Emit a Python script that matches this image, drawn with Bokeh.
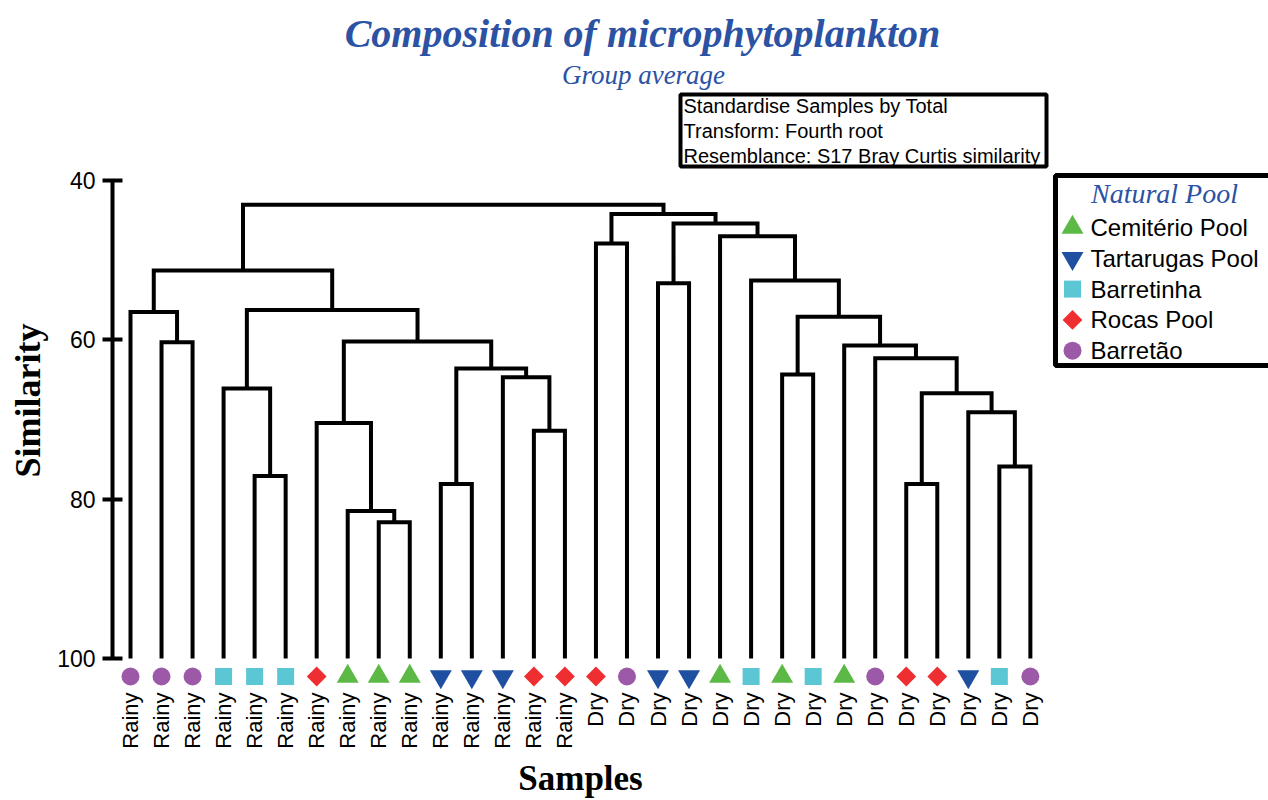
import math
from bokeh.plotting import figure
from bokeh.models import Range1d, FixedTicker, ColumnDataSource
from bokeh.core.properties import value
from bokeh.embed import file_html
from bokeh.resources import INLINE

# ---------------- data ----------------
seasons = ["Rainy", "Rainy", "Rainy", "Rainy", "Rainy", "Rainy", "Rainy", "Rainy",
           "Rainy", "Rainy", "Rainy", "Rainy", "Rainy", "Rainy", "Rainy",
           "Dry", "Dry", "Dry", "Dry", "Dry", "Dry", "Dry", "Dry",
           "Dry", "Dry", "Dry", "Dry", "Dry", "Dry", "Dry"]
pools = ["Barretão", "Barretão", "Barretão", "Barretinha", "Barretinha", "Barretinha",
         "Rocas Pool", "Cemitério Pool", "Cemitério Pool", "Cemitério Pool",
         "Tartarugas Pool", "Tartarugas Pool", "Tartarugas Pool", "Rocas Pool", "Rocas Pool",
         "Rocas Pool", "Barretão", "Tartarugas Pool", "Tartarugas Pool", "Cemitério Pool",
         "Barretinha", "Cemitério Pool", "Barretinha", "Cemitério Pool", "Barretão",
         "Rocas Pool", "Rocas Pool", "Tartarugas Pool", "Barretinha", "Barretão"]

# linkage (scipy style: new node ids start at 30)
merge_a = [1, 0, 4, 3, 8, 7, 6, 10, 13, 12, 37, 36, 33, 31,
           15, 17, 21, 25, 28, 27, 47, 24, 23, 46, 20, 19, 45, 44, 43]
merge_b = [2, 30, 5, 32, 9, 34, 35, 11, 14, 38, 39, 40, 41, 42,
           16, 18, 22, 26, 29, 48, 49, 50, 51, 52, 53, 54, 55, 56, 57]
similarity = [60.3, 56.5, 77.1, 66.1, 82.9, 81.5, 70.45, 78.1, 71.4, 64.7, 63.6, 60.2, 56.25, 51.3,
              47.9, 52.9, 64.35, 78.1, 75.9, 69.1, 66.7, 62.3, 60.7, 57.1, 52.55, 47.0, 45.4, 44.2,
              43.05]

legend_pools = ["Cemitério Pool", "Tartarugas Pool", "Barretinha", "Rocas Pool", "Barretão"]
legend_markers = ["triangle", "inverted_triangle", "square", "square", "circle"]
legend_angles = [0.0, 0.0, 0.0, math.pi / 4, 0.0]
legend_colors = ["#5cb946", "#1f4fa0", "#5bc6d4", "#ee2e31", "#9b59a7"]
legend_sizes = [22, 22, 17, 14, 18]

y_ticks = [40, 60, 80, 100]
notes = ["Standardise Samples by Total", "Transform: Fourth root",
         "Resemblance: S17 Bray Curtis similarity"]

# ---------------- geometry helpers (annotation placement) ----------------
PXU = 31.03          # px per leaf
PYU = 478.0 / 60.0   # px per similarity unit
def dx(px):
    return (px - 130.0) / PXU
def dy(py):
    return 40.0 + (py - 180.0) / PYU

p = figure(width=1268, height=800, output_backend="svg", toolbar_location=None,
           x_range=Range1d(dx(112), dx(1268)), y_range=Range1d(dy(800), dy(0)),
           x_axis_location=None, y_axis_location="left",
           min_border_left=112, min_border_right=0, min_border_top=0, min_border_bottom=0)
p.outline_line_color = None
p.xgrid.grid_line_color = None
p.ygrid.grid_line_color = None
p.background_fill_color = "white"

ax = p.yaxis[0]
ax.ticker = FixedTicker(ticks=y_ticks)
ax.bounds = (40, 100)
ax.axis_line_width = 4
ax.axis_line_color = "black"
ax.major_tick_line_width = 4
ax.major_tick_in = 10
ax.major_tick_out = 10
ax.minor_tick_line_color = None
ax.major_label_text_font = "Liberation Sans"
ax.major_label_text_font_size = "23px"
ax.major_label_text_color = "black"
ax.major_label_standoff = 7
ax.axis_label = "Similarity"
ax.axis_label_text_font = "Liberation Serif"
ax.axis_label_text_font_style = "bold"
ax.axis_label_text_font_size = "36px"
ax.axis_label_text_color = "black"
ax.axis_label_standoff = 6

# ---------------- dendrogram ----------------
node_x = list(range(len(seasons)))
node_h = [100.0] * len(seasons)
paths_x, paths_y = [], []
for a, b, s in zip(merge_a, merge_b, similarity):
    paths_x.append([node_x[a], node_x[a], node_x[b], node_x[b]])
    paths_y.append([node_h[a], s, s, node_h[b]])
    node_x.append((node_x[a] + node_x[b]) / 2.0)
    node_h.append(s)
p.multi_line(xs=paths_x, ys=paths_y, line_color="black", line_width=4,
             line_join="miter", line_cap="butt")

# leaf markers
mk = dict(zip(legend_pools, legend_markers))
cl = dict(zip(legend_pools, legend_colors))
sz = dict(zip(legend_pools, legend_sizes))
an = dict(zip(legend_pools, legend_angles))
leaf_src = ColumnDataSource(dict(
    x=list(range(len(seasons))),
    y=[dy(676)] * len(seasons),
    marker=[mk[q] for q in pools],
    color=[cl[q] for q in pools],
    size=[sz[q] for q in pools],
    angle=[an[q] for q in pools],
    label=seasons,
    ly=[dy(692)] * len(seasons),
))
p.scatter(x="x", y="y", marker="marker", size="size", angle="angle", fill_color="color",
          line_color=None, source=leaf_src)
p.text(x="x", y="ly", text="label", source=leaf_src, angle=math.pi / 2,
       text_align="right", text_baseline="middle",
       text_font=value("Liberation Sans"), text_font_size="22px", text_color="black")

# x axis title
p.text(x=[dx(580)], y=[dy(778)], text=["Samples"], text_align="center", text_baseline="middle",
       text_font=value("Liberation Serif"), text_font_style="bold", text_font_size="35px",
       text_color="black")

# titles
p.text(x=[dx(642)], y=[dy(33)], text=["Composition of microphytoplankton"],
       text_align="center", text_baseline="middle", text_font=value("Liberation Serif"),
       text_font_style="bold italic", text_font_size="40px", text_color="#2b52a3")
p.text(x=[dx(643)], y=[dy(74)], text=["Group average"],
       text_align="center", text_baseline="middle", text_font=value("Liberation Serif"),
       text_font_style="italic", text_font_size="27px", text_color="#2b52a3")

# info box
p.quad(left=[dx(680)], right=[dx(1046)], top=[dy(94)], bottom=[dy(166)],
       fill_color="white", line_color="black", line_width=4)
p.text(x=[dx(683)] * 3, y=[dy(105), dy(130), dy(155)], text=notes,
       text_align="left", text_baseline="middle", text_font=value("Liberation Sans"),
       text_font_size="20px", text_color="black")

# legend box
p.quad(left=[dx(1055)], right=[dx(1285)], top=[dy(175)], bottom=[dy(365)],
       fill_color="white", line_color="black", line_width=5)
p.text(x=[dx(1164)], y=[dy(193)], text=["Natural Pool"], text_align="center",
       text_baseline="middle", text_font=value("Liberation Serif"), text_font_style="italic",
       text_font_size="28px", text_color="#2b52a3")
leg_y = [dy(227 + 30.8 * i) for i in range(len(legend_pools))]
p.scatter(x=[dx(1072)] * len(legend_pools), y=leg_y, marker=legend_markers,
          size=legend_sizes, angle=legend_angles, fill_color=legend_colors, line_color=None)
p.text(x=[dx(1090)] * len(legend_pools), y=leg_y, text=legend_pools, text_align="left",
       text_baseline="middle", text_font=value("Liberation Sans"), text_font_size="24px",
       text_color="black")

open("out.html", "w").write(file_html(p, INLINE))
